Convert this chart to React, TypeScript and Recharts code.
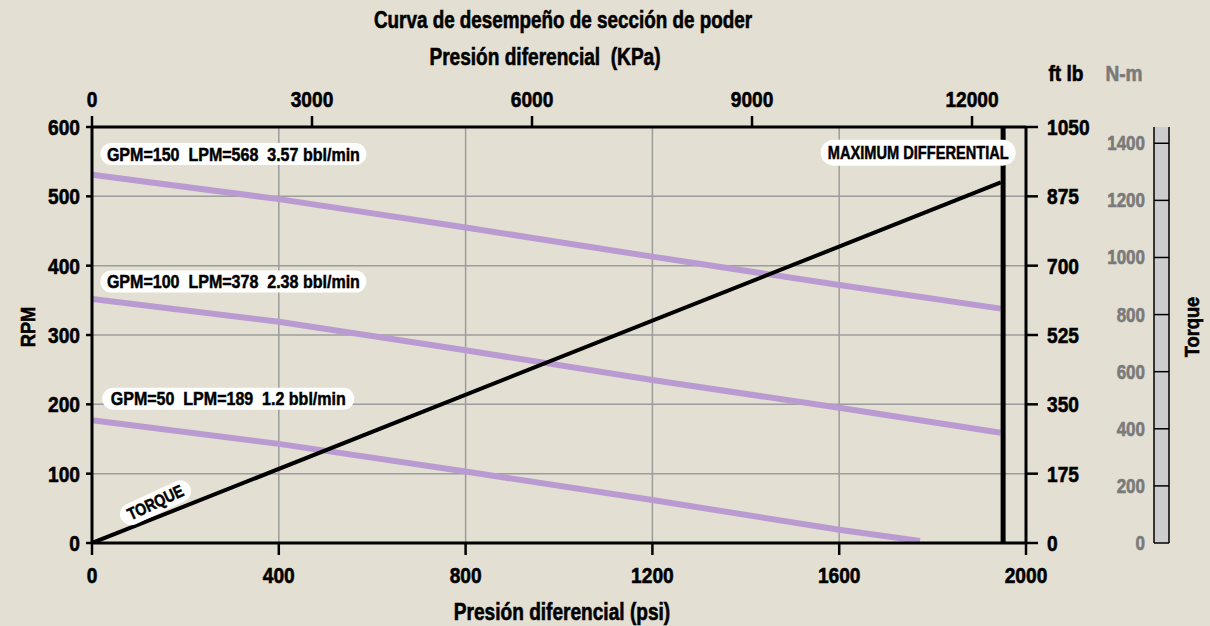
import React from 'react';
import {
  ComposedChart, Line, XAxis, YAxis, CartesianGrid, ReferenceLine, ReferenceDot,
} from 'recharts';

// ---------- data ----------
const PSI_TICKS = [0, 400, 800, 1200, 1600, 2000];
const KPA_TICKS = [0, 3000, 6000, 9000, 12000];
const KPA_MAX = 12736;
const RPM_TICKS = [0, 100, 200, 300, 400, 500, 600];
const FTLB_TICKS = [0, 175, 350, 525, 700, 875, 1050];
const NM_TICKS = [0, 200, 400, 600, 800, 1000, 1200, 1400];
const NM_MAX = 1457;

const gpm150Psi = [0, 400, 800, 1200, 1600, 1946];
const gpm150Rpm = [531, 496, 455, 413, 372, 338];
const gpm100Psi = [0, 400, 800, 1200, 1600, 1946];
const gpm100Rpm = [352, 319, 278, 235, 195, 159];
const gpm50Psi = [0, 400, 800, 1200, 1600, 1773];
const gpm50Rpm = [177, 143, 103, 62, 19, 3];
const torquePsi = [0, 1946];
const torqueFtlb = [0, 910];
const MAX_DIFF_PSI = 1951;

const SERIES_LABELS = [
  'GPM=150  LPM=568  3.57 bbl/min',
  'GPM=100  LPM=378  2.38 bbl/min',
  'GPM=50  LPM=189  1.2 bbl/min',
];
const SERIES_LABEL_PSI = [18, 18, 22];
const SERIES_LABEL_RPM = [561, 377, 208];
const MAX_LABEL = 'MAXIMUM DIFFERENTIAL';
const MAX_LABEL_PSI = 1978;
const MAX_LABEL_RPM = 563;
const TORQUE_LABEL = 'TORQUE';
const TORQUE_LABEL_PSI = 136;
const TORQUE_LABEL_RPM = 58;

const TITLE = 'Curva de desempeño de sección de poder';
const KPA_TITLE = 'Presión diferencial  (KPa)';
const PSI_TITLE = 'Presión diferencial (psi)';

// ---------- build ----------
const toRows = (xs: number[], ys: number[], key: string) => xs.map((x, i) => ({ psi: x, [key]: ys[i] }));
const gpm150 = toRows(gpm150Psi, gpm150Rpm, 'rpm');
const gpm100 = toRows(gpm100Psi, gpm100Rpm, 'rpm');
const gpm50 = toRows(gpm50Psi, gpm50Rpm, 'rpm');
const torque = toRows(torquePsi, torqueFtlb, 'ftlb');
const kpaRows = KPA_TICKS.concat([KPA_MAX]).map((k) => ({ kpa: k }));

const FONT = "'Liberation Sans', Arial, sans-serif";
const PURPLE = '#b99bd2';
const BG = '#e3dfd2';
const GRAY_TXT = '#7a7a7a';

function CText(props: any) {
  const { x, y, anchor = 'middle', size = 22, color = '#000', sx = 0.87, rotate = 0, children } = props;
  const tf = `translate(${x} ${y})${rotate ? ` rotate(${rotate})` : ''} scale(${sx} 1)`;
  return (
    <text
      transform={tf}
      x={0}
      y={0}
      textAnchor={anchor}
      dominantBaseline="central"
      fontFamily={FONT}
      fontSize={size}
      fontWeight={700}
      fill={color}
      stroke={color}
      strokeWidth={0.6}
      style={{ whiteSpace: 'pre' }}
    >
      {children}
    </text>
  );
}

function Pill(props: any) {
  const { cx, cy, text, w, tw, h = 22, align = 'left', angle = 0, fontSize = 19 } = props;
  const x0 = align === 'left' ? cx : align === 'right' ? cx - w : cx - w / 2;
  const tx = x0 + w / 2;
  return (
    <g transform={angle ? `rotate(${angle} ${cx} ${cy})` : undefined}>
      <rect x={x0} y={cy - h / 2} width={w} height={h} rx={h / 2} ry={h / 2} fill="#fff" />
      <text
        x={tx - tw / 2}
        y={cy}
        dominantBaseline="central"
        fontFamily={FONT}
        fontSize={fontSize}
        fontWeight={700}
        fill="#000"
        stroke="#000"
        strokeWidth={0.5}
        style={{ whiteSpace: 'pre' }}
        textLength={tw}
        lengthAdjust="spacingAndGlyphs"
      >
        {text}
      </text>
    </g>
  );
}

const BottomTick = (p: any) => <CText x={p.x} y={p.y + 20}>{p.payload.value}</CText>;
const TopTick = (p: any) => <CText x={p.x} y={p.y - 17}>{p.payload.value}</CText>;
const LeftTick = (p: any) => <CText x={p.x - 6} y={p.y} anchor="end">{p.payload.value}</CText>;
const RightTick = (p: any) => <CText x={p.x + 9} y={p.y} anchor="start">{p.payload.value}</CText>;
const NmTick = (p: any) => <CText x={p.x - 9} y={p.y} anchor="end" size={20} sx={0.85} color={GRAY_TXT}>{p.payload.value}</CText>;

const NmLabel = (props: any) => {
  const vb = props.viewBox || {};
  const x = vb.x;
  const top = vb.y;
  const h = vb.height;
  const bw = 15;
  const bottom = top + h;
  return (
    <g>
      <rect x={x} y={top} width={bw} height={h} fill="#cdcdcd" />
      <line x1={x} y1={top} x2={x} y2={bottom} stroke="#000" strokeWidth={1.5} />
      <line x1={x + bw} y1={top} x2={x + bw} y2={bottom} stroke="#000" strokeWidth={1.5} />
      {NM_TICKS.map((t) => {
        const yy = bottom - (t / NM_MAX) * h;
        return <line key={t} x1={x} y1={yy} x2={x + bw} y2={yy} stroke="#000" strokeWidth={1.5} />;
      })}
      <CText x={x - 30} y={top - 54} color={GRAY_TXT}>N-m</CText>
      <CText x={x - 88} y={top - 54}>ft lb</CText>
      <CText x={x + 38} y={top + h / 2 - 8} rotate={-90} size={21}>Torque</CText>
    </g>
  );
};

const RpmLabel = (props: any) => {
  const vb = props.viewBox || {};
  return <CText x={vb.x + 28} y={vb.y + vb.height / 2 - 8} rotate={-90} size={21}>RPM</CText>;
};

const TopLabel = (props: any) => {
  const vb = props.viewBox || {};
  const cx = vb.x + vb.width / 2;
  return (
    <g>
      <CText x={cx + 4} y={20} size={23} sx={0.82}>{TITLE}</CText>
      <CText x={cx - 14} y={57} size={23} sx={0.83}>{KPA_TITLE}</CText>
    </g>
  );
};

const BottomLabel = (props: any) => {
  const vb = props.viewBox || {};
  return <CText x={vb.x + vb.width / 2 + 3} y={612} size={23} sx={0.83}>{PSI_TITLE}</CText>;
};

const axisStroke = { stroke: '#000', strokeWidth: 3 };
const tickStroke = { stroke: '#000', strokeWidth: 2.5 };

export default function App() {
  return (
    <div style={{ position: 'absolute', left: 0, top: 0, width: 1210, height: 626, background: BG }}>
      <ComposedChart width={1210} height={626} margin={{ top: 0, right: 0, bottom: 0, left: 0 }}>
        <XAxis
          xAxisId="psi"
          dataKey="psi"
          type="number"
          orientation="bottom"
          domain={[0, 2000]}
          ticks={PSI_TICKS}
          allowDataOverflow
          height={83}
          axisLine={axisStroke}
          tickLine={tickStroke}
          tickSize={12}
          tickMargin={0}
          tick={<BottomTick />}
          label={<BottomLabel />}
        />
        <XAxis
          xAxisId="kpa"
          dataKey="kpa"
          type="number"
          orientation="top"
          domain={[0, KPA_MAX]}
          ticks={KPA_TICKS}
          allowDataOverflow
          height={127}
          axisLine={axisStroke}
          tickLine={tickStroke}
          tickSize={11}
          tickMargin={0}
          tick={<TopTick />}
          label={<TopLabel />}
        />
        <YAxis
          yAxisId="rpm"
          type="number"
          orientation="left"
          domain={[0, 600]}
          ticks={RPM_TICKS}
          allowDataOverflow
          width={92}
          axisLine={axisStroke}
          tickLine={tickStroke}
          tickSize={6}
          tickMargin={0}
          tick={<LeftTick />}
          label={<RpmLabel />}
        />
        <YAxis
          yAxisId="ftlb"
          type="number"
          orientation="right"
          domain={[0, 1050]}
          ticks={FTLB_TICKS}
          allowDataOverflow
          width={128}
          axisLine={axisStroke}
          tickLine={tickStroke}
          tickSize={12}
          tickMargin={0}
          tick={<RightTick />}
        />
        <YAxis
          yAxisId="nm"
          type="number"
          orientation="right"
          domain={[0, NM_MAX]}
          ticks={NM_TICKS}
          allowDataOverflow
          width={56}
          axisLine={false}
          tickLine={false}
          tickSize={0}
          tickMargin={0}
          tick={<NmTick />}
          label={<NmLabel />}
        />
        <CartesianGrid xAxisId="psi" yAxisId="rpm" stroke="#9c9c9c" strokeWidth={1.5} />
        <Line xAxisId="kpa" yAxisId="rpm" data={kpaRows} dataKey="rpm" stroke="none" dot={false} activeDot={false} legendType="none" isAnimationActive={false} />
        <Line xAxisId="psi" yAxisId="rpm" data={gpm150} dataKey="rpm" stroke={PURPLE} strokeWidth={6} dot={false} activeDot={false} isAnimationActive={false} />
        <Line xAxisId="psi" yAxisId="rpm" data={gpm100} dataKey="rpm" stroke={PURPLE} strokeWidth={6} dot={false} activeDot={false} isAnimationActive={false} />
        <Line xAxisId="psi" yAxisId="rpm" data={gpm50} dataKey="rpm" stroke={PURPLE} strokeWidth={6} dot={false} activeDot={false} isAnimationActive={false} />
        <Line xAxisId="psi" yAxisId="ftlb" data={torque} dataKey="ftlb" stroke="#000" strokeWidth={4} dot={false} activeDot={false} isAnimationActive={false} />
        <ReferenceLine xAxisId="psi" yAxisId="rpm" x={MAX_DIFF_PSI} stroke="#000" strokeWidth={5} />
        {SERIES_LABELS.map((t, i) => (
          <ReferenceDot
            key={t}
            xAxisId="psi"
            yAxisId="rpm"
            x={SERIES_LABEL_PSI[i]}
            y={SERIES_LABEL_RPM[i]}
            r={0}
            ifOverflow="visible"
            shape={(p: any) => <Pill cx={p.cx} cy={p.cy} text={t} w={i === 2 ? 252 : 266} tw={i === 2 ? 235 : 253} />}
          />
        ))}
        <ReferenceDot
          xAxisId="psi"
          yAxisId="rpm"
          x={MAX_LABEL_PSI}
          y={MAX_LABEL_RPM}
          r={0}
          ifOverflow="visible"
          shape={(p: any) => <Pill cx={p.cx} cy={p.cy} text={MAX_LABEL} w={195} tw={181} h={26} align="right" fontSize={19} />}
        />
        <ReferenceDot
          xAxisId="psi"
          yAxisId="rpm"
          x={TORQUE_LABEL_PSI}
          y={TORQUE_LABEL_RPM}
          r={0}
          ifOverflow="visible"
          shape={(p: any) => <Pill cx={p.cx} cy={p.cy} text={TORQUE_LABEL} w={76} tw={60} h={22} align="center" angle={-25} fontSize={17} />}
        />
      </ComposedChart>
    </div>
  );
}
